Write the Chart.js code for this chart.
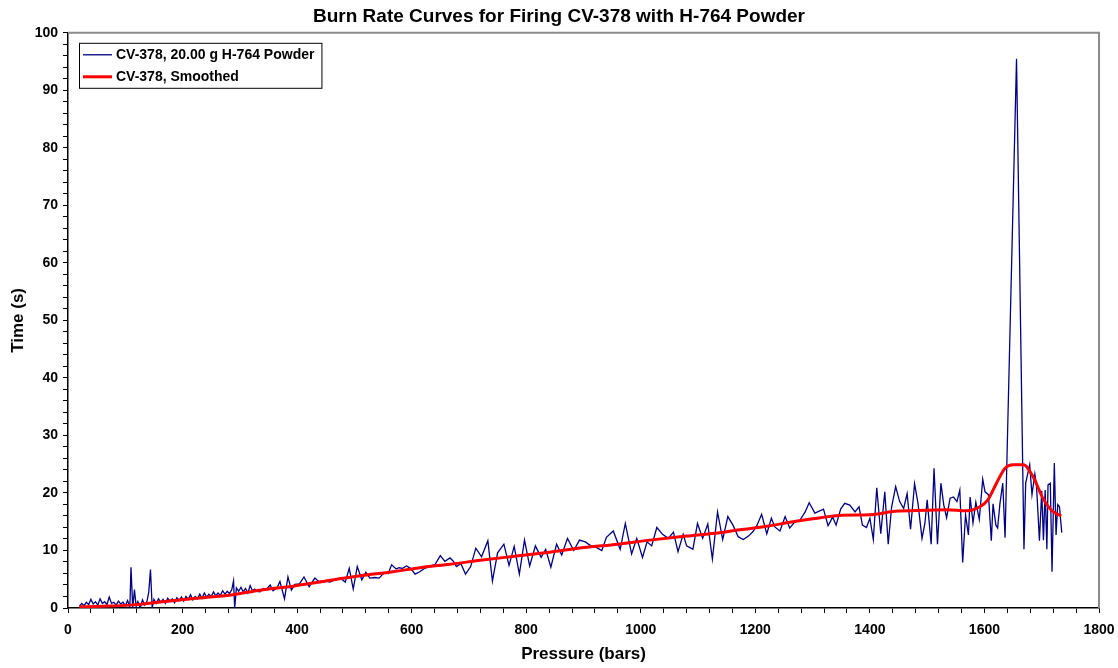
<!DOCTYPE html>
<html>
<head>
<meta charset="utf-8">
<script src="https://cdn.jsdelivr.net/npm/chart.js@4"></script>
<style>
  html, body { margin: 0; padding: 0; background: #fff; }
  canvas { display: block; }
</style>
</head>
<body>
<canvas id="c" width="1118" height="668"></canvas>
<script>
// ---------- DATA ----------
const chartTitle = "Burn Rate Curves for Firing CV-378 with H-764 Powder";
const xTitle = "Pressure (bars)";
const yTitle = "Time (s)";
const rawLabel = "CV-378, 20.00 g H-764 Powder";
const smoothLabel = "CV-378, Smoothed";

const rawPressure = [
  20,24,28,32,36,40,44,48,52,56,60,64,68,72,76,80,84,88,92,96,100,104,108,110,113,116,119,122,126,130,
  134,138,141,144,147,150,154,158,162,166,170,174,178,182,186,190,194,198,202,206,210,214,218,222,226,230,
  234,238,242,246,250,254,258,262,266,270,274,278,282,286,289,291,294,298,302,306,310,314,318,322,326,330,
  335,341,347,353,358,365,370,378,384,390,396,404,412,421,431,440,449,457,466,475,484,491,498,505,513,520,
  527,536,543,552,559,565,573,578,584,591,598,606,614,623,632,641,650,658,667,673,678,686,694,703,712,722,
  733,741,750,761,770,779,788,797,806,816,826,834,843,853,862,872,883,893,903,913,923,932,940,952,964,973,
  984,993,1003,1011,1019,1028,1038,1048,1057,1065,1074,1080,1086,1091,1099,1108,1117,1125,1134,1143,1152,
  1161,1170,1179,1188,1196,1203,1211,1220,1228,1234,1243,1252,1260,1269,1278,1287,1294,1304,1319,1327,1335,
  1341,1349,1356,1365,1374,1381,1387,1394,1400,1406,1412,1419,1426,1432,1438,1445,1452,1459,1465,1471,1478,
  1484,1491,1496,1500,1507,1512,1518,1524,1529,1534,1540,1546,1552,1557,1562,1567,1572,1575,1580,1585,1591,
  1597,1601,1607,1612,1615,1620,1623,1627,1632,1636,1656,1669,1672,1679,1683,1688,1691,1696,1700,1703,1706,
  1709,1711,1715,1718,1722,1725,1728,1731,1735
];
const rawTime = [
  0.3,0.8,0.4,1.0,0.6,1.5,0.7,1.1,0.5,1.6,0.8,1.1,0.6,1.9,0.8,1.0,0.5,1.2,0.7,1.0,0.4,1.3,0.2,7.1,0.0,3.2,0.3,1.1,0.0,1.4,
  0.5,1.2,2.8,6.7,0.0,1.5,0.8,1.6,1.0,1.5,0.8,1.7,1.2,1.6,0.9,1.8,1.3,1.9,1.2,2.0,1.5,2.3,1.4,2.0,1.6,2.4,
  1.7,2.6,1.9,2.4,2.0,2.8,2.1,2.6,2.2,3.0,2.4,2.9,2.5,3.2,4.7,0.0,3.5,2.9,3.6,2.8,3.4,2.6,3.9,3.0,3.3,2.9,
  2.8,3.4,3.3,4.0,3.0,3.5,4.6,1.6,5.4,3.1,4.1,4.2,5.4,3.7,5.2,4.4,4.7,4.5,4.9,5.2,4.5,6.9,3.3,7.2,4.9,6.2,
  5.2,5.3,5.2,6.1,6.0,7.5,6.8,7.0,6.9,7.3,6.9,5.9,6.3,6.9,7.3,7.6,9.1,8.1,8.7,8.1,7.2,7.7,5.9,7.2,10.4,8.9,
  11.7,4.7,9.6,11.1,7.4,10.7,5.9,11.8,7.3,10.8,8.8,10.2,7.1,11.1,9.2,12.1,10.0,11.8,11.5,10.8,10.5,10.0,12.3,13.4,10.2,14.7,
  9.4,12.1,8.8,11.5,10.8,14.0,12.8,12.1,13.2,9.8,12.8,10.8,10.5,10.2,14.7,12.1,14.6,8.5,16.7,11.9,15.9,
  14.4,12.4,11.9,12.5,13.3,14.4,16.3,12.9,15.6,14.1,13.4,15.9,13.9,15.0,15.3,16.7,18.3,16.5,17.2,14.3,15.8,
  14.4,17.2,18.2,17.9,16.7,17.6,14.4,14.0,15.6,11.9,20.9,12.9,20.2,11.1,17.6,21.1,18.5,17.3,19.9,13.7,21.6,
  18.2,12.1,14.7,18.8,11.1,24.3,11.1,21.7,17.9,15.7,19.1,19.3,18.5,20.5,7.9,16.2,12.7,19.3,14.8,18.4,15.4,
  22.4,20.2,19.7,11.7,18.1,14.4,13.9,18.1,21.7,12.2,95.5,10.2,21.7,24.9,19.7,23.3,21.1,11.7,20.4,11.8,20.5,
  10.2,21.4,21.7,6.3,25.2,12.7,18.0,17.6,13.1
];

const smoothPressure = [20,60,108,150,195,236,288,335,393,450,510,567,620,667,720,780,841,900,960,1016,1080,1130,1173,1220,1260,1300,1347,1400,1444,1500,1534,1569,1592,1606,1621,1636,1650,1668,1685,1702,1717,1734];
const smoothTime = [0.2,0.3,0.5,0.9,1.4,1.8,2.3,3.1,3.8,4.7,5.6,6.3,7.1,7.6,8.3,9.0,9.7,10.5,11.1,11.8,12.5,13.0,13.6,14.2,14.9,15.5,16.1,16.2,16.8,17.0,17.1,16.9,17.6,18.8,21.7,24.3,24.9,24.9,22.8,19.1,17.0,16.0];

const xMin = 0, xMax = 1800, xMajor = 200, xMinor = 40;
const yMin = 0, yMax = 100, yMajor = 10, yMinor = 2;

// ---------- CHART ----------
const FONT = "'Liberation Sans', Arial, Helvetica, sans-serif";
const toPts = (xs, ys) => xs.map((x, i) => ({ x: x, y: ys[i] }));

const frameAndLegend = {
  id: 'frameAndLegend',
  afterDatasetsDraw(chart) {
    const { ctx, chartArea: a } = chart;
    ctx.save();
    // top / right gray frame
    ctx.strokeStyle = '#8c8c8c';
    ctx.lineWidth = 2;
    ctx.beginPath();
    ctx.moveTo(a.left, a.top);
    ctx.lineTo(a.right, a.top);
    ctx.lineTo(a.right, a.bottom);
    ctx.stroke();

    // legend box
    ctx.font = "bold 14px " + FONT;
    const dss = chart.data.datasets;
    let tw = 0;
    dss.forEach(d => { tw = Math.max(tw, ctx.measureText(d.label).width); });
    const x0 = a.left + 11, y0 = a.top + 10;
    const w = 37 + tw + 7, h = 45;
    ctx.fillStyle = '#fff';
    ctx.fillRect(x0, y0, w, h);
    ctx.strokeStyle = '#000';
    ctx.lineWidth = 1;
    ctx.strokeRect(x0 + 0.5, y0 + 0.5, w, h);
    dss.forEach((d, i) => {
      const cy = y0 + 12 + i * 22;
      ctx.strokeStyle = d.borderColor;
      ctx.lineWidth = d.borderWidth;
      ctx.beginPath();
      ctx.moveTo(x0 + 4, cy);
      ctx.lineTo(x0 + 33, cy);
      ctx.stroke();
      ctx.fillStyle = '#000';
      ctx.textBaseline = 'middle';
      ctx.textAlign = 'left';
      ctx.fillText(d.label, x0 + 37, cy + 0.5);
    });
    ctx.restore();
  }
};

new Chart(document.getElementById('c'), {
  type: 'scatter',
  data: {
    datasets: [
      {
        label: rawLabel,
        data: toPts(rawPressure, rawTime),
        showLine: true,
        borderColor: '#000080',
        backgroundColor: '#000080',
        borderWidth: 1.3,
        pointRadius: 0,
        tension: 0,
        order: 2
      },
      {
        label: smoothLabel,
        data: toPts(smoothPressure, smoothTime),
        showLine: true,
        borderColor: '#ff0000',
        backgroundColor: '#ff0000',
        borderWidth: 3,
        pointRadius: 0,
        cubicInterpolationMode: 'monotone',
        order: 1
      }
    ]
  },
  options: {
    responsive: false,
    devicePixelRatio: 1,
    animation: false,
    layout: { padding: { left: 0, right: 0, top: 0, bottom: 0 } },
    plugins: {
      legend: { display: false },
      tooltip: { enabled: false },
      title: {
        display: true,
        text: chartTitle,
        color: '#000',
        font: { family: FONT, size: 19, weight: 'bold', lineHeight: 1.2 },
        padding: { top: 5, bottom: 5 }
      }
    },
    scales: {
      x: {
        type: 'linear',
        min: xMin, max: xMax,
        afterFit(s) { s.height = 60; s.paddingRight = 19; },
        ticks: {
          stepSize: xMinor,
          autoSkip: false,
          maxRotation: 0, minRotation: 0,
          padding: 9,
          color: '#000',
          font: { family: FONT, size: 14, weight: 'bold' },
          callback: v => (v % xMajor === 0 ? String(v) : '')
        },
        grid: { drawOnChartArea: false, drawTicks: true, tickLength: 5, color: '#000', tickColor: '#000' },
        border: { display: true, color: '#000', width: 1.5 },
        title: {
          display: true, text: xTitle, color: '#000',
          font: { family: FONT, size: 17, weight: 'bold', lineHeight: 1.2 },
          padding: { top: 0, bottom: 3 }
        }
      },
      y: {
        type: 'linear',
        min: yMin, max: yMax,
        afterFit(s) { s.width = 68; },
        ticks: {
          stepSize: yMinor,
          autoSkip: false,
          padding: 5,
          color: '#000',
          font: { family: FONT, size: 14, weight: 'bold' },
          callback: v => (v % yMajor === 0 ? String(v) : '')
        },
        grid: { drawOnChartArea: false, drawTicks: true, tickLength: 5, color: '#000', tickColor: '#000' },
        border: { display: true, color: '#000', width: 1.5 },
        title: {
          display: true, text: yTitle, color: '#000',
          font: { family: FONT, size: 17, weight: 'bold', lineHeight: 1.2 },
          padding: { top: 8, bottom: 0 }
        }
      }
    }
  },
  plugins: [frameAndLegend]
});
</script>
</body>
</html>
